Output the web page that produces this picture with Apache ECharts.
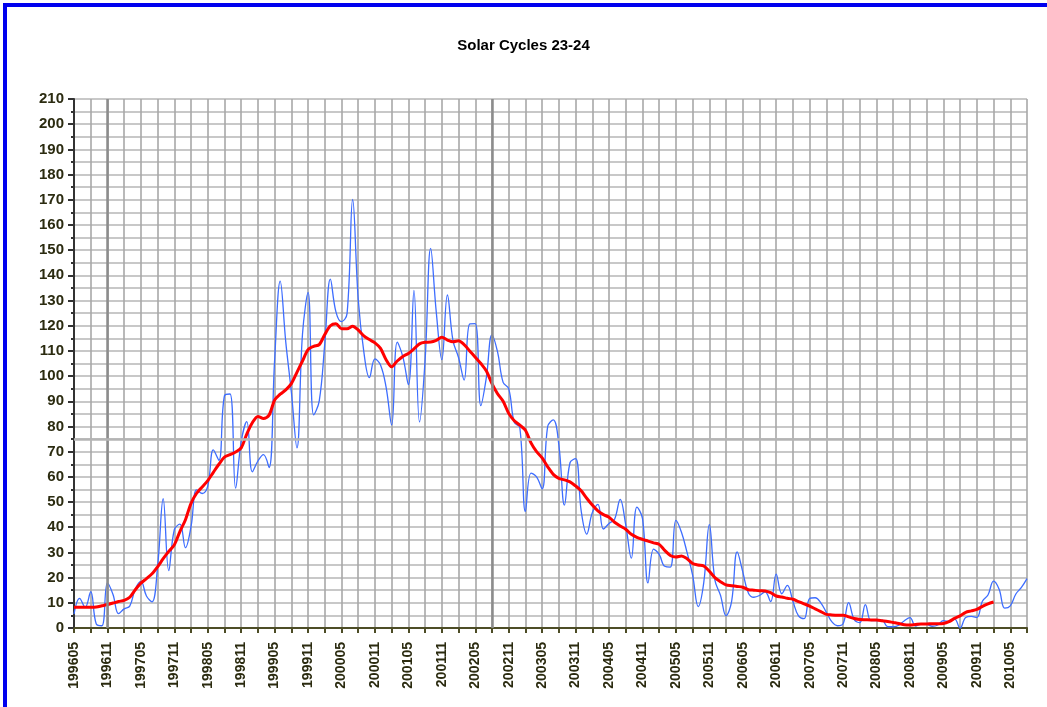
<!DOCTYPE html>
<html>
<head>
<meta charset="utf-8">
<script src="https://cdn.jsdelivr.net/npm/echarts@6/dist/echarts.min.js"></script>
<style>
html,body{margin:0;padding:0;background:#fff;}
#chart{width:1047px;height:707px;}
</style>
</head>
<body>
<div id="chart"></div>
<script>
// ---- data ----
var startYear = 1996, startMonth = 5, monthCount = 172; // 199605 .. 201008
var categories = [];
for (var k = 0; k < monthCount; k++) {
  var m = startMonth - 1 + k;
  var yy = startYear + Math.floor(m / 12), mm = (m % 12) + 1;
  categories.push(String(yy) + (mm < 10 ? '0' : '') + mm);
}
var yTickLabels = [0,10,20,30,40,50,60,70,80,90,100,110,120,130,140,150,160,170,180,190,200,210];

// monthly sunspot number (blue)
var monthly1996 = [5.5, 11.8, 8.2, 14.4, 1.6, 0.9, 17.9, 13.3];
var monthly1997 = [5.7, 7.6, 8.7, 15.5, 18.5, 12.7, 10.4, 24.4, 51.3, 22.8, 39.0, 41.2];
var monthly1998 = [31.9, 40.3, 54.8, 53.4, 56.3, 70.7, 66.6, 92.2, 92.9, 55.5, 74.0, 81.9];
var monthly1999 = [62.0, 66.3, 68.8, 63.7, 106.4, 137.7, 113.5, 93.7, 71.5, 116.7, 133.2, 84.6];
var monthly2000 = [90.1, 112.9, 138.5, 125.5, 121.6, 124.9, 170.1, 130.5, 109.7, 99.4, 106.8, 104.4];
var monthly2001 = [95.6, 80.6, 113.5, 107.7, 96.6, 134.0, 81.8, 106.4, 150.7, 125.5, 106.5, 132.2];
var monthly2002 = [114.1, 107.4, 98.4, 120.7, 120.8, 88.3, 99.6, 116.4, 109.6, 97.5, 95.0, 81.6];
var monthly2003 = [79.5, 46.2, 61.5, 60.0, 55.2, 80.0, 82.6, 72.7, 48.8, 65.6, 67.2, 46.6];
var monthly2004 = [37.3, 45.8, 49.1, 39.3, 41.5, 43.2, 51.1, 40.9, 27.7, 48.0, 43.5, 17.9];
var monthly2005 = [31.3, 29.2, 24.5, 24.2, 42.7, 38.0, 30.0, 21.0, 8.5, 18.0, 41.0, 19.0];
var monthly2006 = [13.0, 4.9, 10.6, 30.2, 22.3, 13.9, 12.2, 12.9, 14.4, 10.5, 21.4, 13.6];
var monthly2007 = [16.9, 10.6, 4.8, 3.7, 11.7, 12.0, 10.0, 6.2, 2.4, 0.9, 1.7, 10.1];
var monthly2008 = [3.3, 2.1, 9.3, 2.9, 2.9, 3.1, 0.5, 0.5, 1.1, 2.9, 4.1, 0.8];
var monthly2009 = [1.5, 1.4, 0.7, 1.2, 2.9, 2.6, 3.5, 0.0, 4.2, 4.6, 4.2, 10.6];
var monthly2010 = [13.1, 18.6, 15.4, 7.9, 8.8, 13.5, 16.1, 19.6];

// 13-month smoothed sunspot number (red)
var smoothed1996 = [8.2, 8.2, 8.2, 8.2, 8.3, 8.8, 9.3, 9.9];
var smoothed1997 = [10.5, 11.0, 12.2, 15.2, 17.8, 19.6, 21.5, 24.3, 27.5, 30.4, 33.0, 38.3];
var smoothed1998 = [43.0, 49.5, 53.5, 56.0, 58.5, 61.8, 65.0, 67.8, 68.8, 69.9, 71.5, 77.0];
var smoothed1999 = [81.5, 84.0, 83.2, 84.5, 90.5, 92.8, 94.5, 97.0, 101.5, 106.0, 110.5, 111.8];
var smoothed2000 = [112.5, 116.5, 120.0, 120.8, 118.8, 118.8, 119.8, 118.3, 116.0, 114.5, 113.2, 111.0];
var smoothed2001 = [106.5, 103.7, 106.0, 107.8, 109.0, 110.8, 112.8, 113.4, 113.5, 114.2, 115.4, 114.3];
var smoothed2002 = [113.6, 114.0, 112.5, 110.0, 107.5, 105.0, 102.0, 97.0, 93.0, 90.0, 85.2, 82.3];
var smoothed2003 = [80.5, 78.5, 73.5, 70.0, 67.5, 64.0, 61.0, 59.4, 58.8, 58.0, 56.4, 54.5];
var smoothed2004 = [51.5, 48.8, 46.5, 45.0, 44.0, 42.0, 40.5, 39.2, 37.2, 36.0, 35.2, 34.5];
var smoothed2005 = [33.8, 33.2, 30.8, 28.8, 28.2, 28.6, 27.5, 25.6, 25.0, 24.6, 22.5, 20.0];
var smoothed2006 = [18.4, 17.1, 16.8, 16.5, 16.2, 15.2, 15.0, 14.8, 14.7, 14.0, 12.7, 12.3];
var smoothed2007 = [11.8, 11.4, 10.5, 9.6, 8.7, 7.6, 6.5, 5.4, 5.2, 5.1, 5.1, 4.4];
var smoothed2008 = [3.8, 3.4, 3.3, 3.2, 3.2, 2.9, 2.6, 2.2, 1.8, 1.3, 1.2, 1.4];
var smoothed2009 = [1.6, 1.6, 1.7, 1.7, 1.8, 2.5, 3.8, 4.8, 6.2, 6.8, 7.4, 8.6];
var smoothed2010 = [9.6, 10.3];

// reference marker lines
var markerMonths = ['199611', '200208'];
var markerLevels = [75];

var monthly = [].concat(monthly1996, monthly1997, monthly1998, monthly1999, monthly2000,
  monthly2001, monthly2002, monthly2003, monthly2004, monthly2005, monthly2006,
  monthly2007, monthly2008, monthly2009, monthly2010);
var smoothed = [].concat(smoothed1996, smoothed1997, smoothed1998, smoothed1999, smoothed2000,
  smoothed2001, smoothed2002, smoothed2003, smoothed2004, smoothed2005, smoothed2006,
  smoothed2007, smoothed2008, smoothed2009, smoothed2010);

var chart = echarts.init(document.getElementById('chart'), null, {renderer: 'canvas'});
var font = '"Liberation Sans", Arial, sans-serif';
var markData = markerMonths.map(function (c) {
    return {xAxis: c, lineStyle: {color: '#8c8c8c', width: 2.5, type: 'solid'}};
  }).concat(markerLevels.map(function (v) {
    return {yAxis: v, lineStyle: {color: '#b4b4b4', width: 2.5, type: 'solid'}};
  }));

chart.setOption({
  backgroundColor: '#ffffff',
  animation: false,
  title: {
    text: 'Solar Cycles 23-24',
    left: 'center',
    top: 33,
    textStyle: {fontFamily: font, fontSize: 15, fontWeight: 'bold', color: '#000'}
  },
  graphic: [{
    type: 'polyline',
    shape: {points: [[5, 707], [5, 5], [1047, 5]]},
    style: {fill: 'none', stroke: '#0000ee', lineWidth: 4},
    silent: true
  }],
  grid: {left: 74, right: 20, top: 99, bottom: 79, containLabel: false},
  xAxis: {
    type: 'category',
    data: categories,
    boundaryGap: false,
    axisLine: {lineStyle: {color: '#4d4d26', width: 2}},
    axisTick: {show: true, interval: 2, length: 5, inside: false, lineStyle: {color: '#4d4d26', width: 2}},
    axisLabel: {
      interval: 5, rotate: 90, margin: 14,
      fontFamily: font, fontSize: 14, fontWeight: 'bold', color: '#2b2b10'
    },
    splitLine: {show: true, interval: 2, lineStyle: {color: '#a8a8a8', width: 1.6}}
  },
  yAxis: {
    type: 'value',
    min: 0, max: 210, interval: 10,
    axisLine: {show: true, lineStyle: {color: '#333333', width: 2}},
    axisTick: {show: true, length: 6, lineStyle: {color: '#333333', width: 2}},
    minorTick: {show: true, splitNumber: 2, length: 3, lineStyle: {color: '#333333', width: 2}},
    axisLabel: {
      margin: 10, fontFamily: font, fontSize: 15, fontWeight: 'bold', color: '#2b2b10',
      formatter: function (v) { return yTickLabels.indexOf(v) >= 0 ? String(v) : ''; }
    },
    splitLine: {show: true, lineStyle: {color: '#c8c8c8', width: 2}},
    minorSplitLine: {show: true, lineStyle: {color: '#c8c8c8', width: 2}}
  },
  series: [{
    name: 'Monthly',
    type: 'line',
    data: monthly,
    smooth: 0.4,
    showSymbol: false,
    lineStyle: {color: '#3d6dff', width: 1.3},
    z: 3,
    markLine: {
      silent: true, symbol: 'none', label: {show: false},
      data: markData
    }
  }, {
    name: 'Smoothed',
    type: 'line',
    data: smoothed,
    smooth: 0.3,
    showSymbol: false,
    lineStyle: {color: '#ff0000', width: 3},
    z: 4
  }]
});
</script>
</body>
</html>
